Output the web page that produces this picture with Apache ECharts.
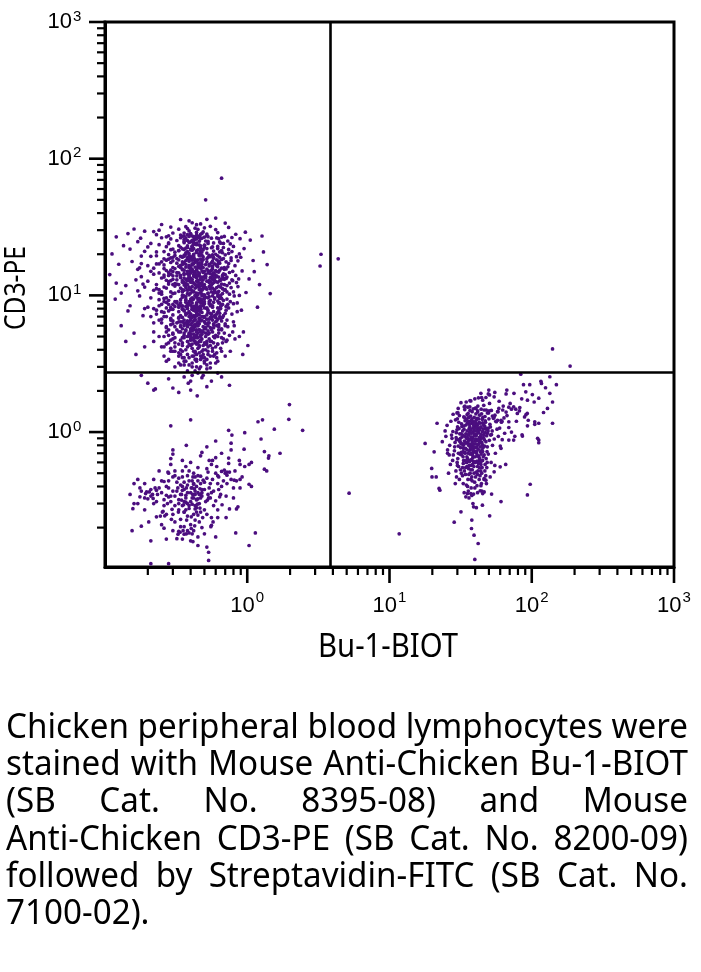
<!DOCTYPE html>
<html><head><meta charset="utf-8">
<script src="https://cdn.jsdelivr.net/npm/echarts@6/dist/echarts.min.js"></script>
<style>html,body{margin:0;padding:0;background:#fff}#c{width:701px;height:972px}</style>
</head><body><div id="c"></div>
<script>
const xTitle = 'Bu-1-BIOT';
const yTitle = 'CD3-PE';
const xMin = 0.1, xMax = 1000, yMin = 0.103, yMax = 1000;
const majorTicks = [1, 10, 100, 1000];
const majorTickExponents = [0, 1, 2, 3];
const minorTicks = [0.2,0.3,0.4,0.5,0.6,0.7,0.8,0.9,2,3,4,5,6,7,8,9,20,30,40,50,60,70,80,90,200,300,400,500,600,700,800,900];
const gateX = 3.85, gateY = 2.74;
const captionLines = [
  'Chicken peripheral blood lymphocytes were',
  'stained with Mouse Anti-Chicken Bu-1-BIOT',
  '(SB Cat. No. 8395-08) and Mouse',
  'Anti-Chicken CD3-PE (SB Cat. No. 8200-09)',
  'followed by Streptavidin-FITC (SB Cat. No.',
  '7100-02).'
];

// CD3+ T cells (upper-left quadrant)
const tCells = [
[.41,12.6],[.35,8.4],[.48,16.9],[.38,22.4],[.53,6.3],[.44,10.2],[.32,14.7],[.46,27.1],[.39,5.2],[.57,19.8],
[.42,7.1],[.36,24.3],[.50,11.4],[.34,5.9],[.45,18.2],[.40,9.1],[.55,13.5],[.37,16.1],[.47,4.6],[.31,20.7],
[.43,25.8],[.52,8.0],[.38,13.2],[.49,21.6],[.46,6.8],[.33,10.7],[.44,15.4],[.40,28.3],[.59,9.6],[.36,4.9],
[.37,11.8],[.46,20.1],[.33,7.6],[.51,14.2],[.40,5.5],[.44,23.5],[.59,12.9],[.36,17.4],[.48,9.9],[.42,6.5],
[.34,26.4],[.53,10.4],[.39,15.9],[.45,8.2],[.31,12.2],[.49,19.1],[.41,4.4],[.56,7.3],[.35,21.9],[.43,13.7],
[.47,11.1],[.38,6.0],[.61,16.5],[.44,28.9],[.40,9.4],[.36,14.5],[.50,5.7],[.42,18.8],[.34,8.8],[.46,24.9],
[.44,7.8],[.39,19.4],[.54,12.4],[.35,10.0],[.47,6.6],[.41,22.9],[.58,5.0],[.40,15.1],[.32,17.2],[.45,9.3],
[.50,26.7],[.37,12.0],[.48,4.8],[.43,17.9],[.33,23.1],[.55,8.6],[.39,11.0],[.46,14.0],[.52,20.4],[.36,6.2],
[.42,10.6],[.45,5.3],[.38,25.2],[.49,13.0],[.31,9.0],[.57,15.6],[.43,7.0],[.35,19.0],[.47,22.1],[.40,12.5],
[.33,16.3],[.46,11.6],[.41,6.9],[.53,24.0],[.37,8.3],[.44,21.2],[.39,14.3],[.60,10.5],[.48,7.5],[.34,27.6],
[.45,17.1],[.40,4.7],[.51,9.7],[.36,13.4],[.43,26.0],[.47,8.9],[.38,18.5],[.55,11.2],[.42,5.8],[.50,15.0],
[.39,20.2],[.34,11.3],[.46,7.2],[.41,16.7],[.57,22.6],[.44,12.7],[.37,9.8],[.49,5.4],[.32,13.9],[.43,23.8],
[.48,10.9],[.42,14.9],[.35,6.4],[.52,17.6],[.40,27.9],[.45,7.7],[.38,10.3],[.54,19.6],[.44,5.1],[.36,15.3],
[.41,21.4],[.47,13.1],[.33,8.5],[.50,23.2],[.39,11.5],[.43,4.5],[.58,14.6],[.37,18.0],[.46,9.5],[.42,25.5],
[.35,12.8],[.44,20.6],[.52,6.7],[.40,16.0],[.48,28.4],[.38,7.4],[.45,11.9],[.31,15.7],[.55,9.2],[.43,17.5],
[.46,5.6],[.37,22.2],[.42,12.3],[.50,8.1],[.34,19.3],[.56,26.2],[.39,9.0],[.44,14.1],[.47,18.4],[.41,7.9],
[.49,11.7],[.36,27.3],[.43,6.1],[.53,15.2],[.38,20.9],[.45,10.1],[.40,24.6],[.33,6.9],[.48,13.6],[.59,17.0],
[.44,9.7],[.39,16.6],[.51,25.0],[.42,5.2],[.35,10.6],[.47,21.0],[.37,13.0],[.54,8.7],[.41,18.1],[.46,4.3],
[.38,14.4],[.45,26.5],[.50,12.0],[.43,8.0],[.36,21.7],[.40,6.6],[.57,11.3],[.48,16.2],[.34,9.3],[.42,23.7],
[.47,15.8],[.41,10.8],[.37,5.6],[.53,19.0],[.44,7.1],[.39,27.0],[.46,12.1],[.32,18.6],[.49,8.4],[.43,14.8],
[.40,13.3],[.52,22.0],[.45,6.3],[.35,16.8],[.48,10.2],[.42,20.0],[.38,8.7],[.55,14.4],[.44,25.9],[.37,11.4],
[.43,9.9],[.36,19.7],[.50,7.0],[.46,17.3],[.40,11.1],[.58,24.2],[.42,4.9],[.39,12.9],[.47,23.0],[.34,14.0],
[.45,21.5],[.41,15.5],[.53,10.3],[.38,6.5],[.49,18.3],[.44,8.6],[.36,24.8],[.51,13.8],[.40,7.3],[.47,28.0],
[.39,17.8],[.46,11.0],[.42,26.9],[.35,9.7],[.54,16.4],[.43,5.9],[.48,20.8],[.37,12.2],[.56,6.8],[.41,22.8],
[.44,13.5],[.50,9.5],[.38,15.0],[.47,7.6],[.42,19.5],[.36,10.9],[.52,27.4],[.45,12.6],[.40,5.7],[.33,21.2],
[.48,17.7],[.41,8.2],[.46,23.4],[.39,13.7],[.55,11.8],[.43,16.1],[.37,26.3],[.50,6.4],[.44,10.4],[.42,14.2],
[.47,9.1],[.40,21.8],[.36,12.4],[.53,7.8],[.45,15.9],[.41,25.3],[.49,11.2],[.38,18.9],[.43,6.7],[.57,13.1],
[.35,7.9],[.46,19.8],[.42,10.7],[.51,16.8],[.39,24.4],[.44,11.5],[.48,5.5],[.40,14.6],[.37,20.5],[.54,9.8],
[.43,12.0],[.38,27.8],[.47,8.3],[.41,17.0],[.50,22.5],[.36,6.0],[.45,13.9],[.42,9.4],[.58,18.7],[.39,10.1],
[.44,24.1],[.49,14.7],[.37,9.2],[.46,6.2],[.40,19.2],[.52,12.7],[.43,26.6],[.35,15.4],[.48,8.9],[.41,11.6],
[.42,3.9],[.38,4.2],[.47,3.6],[.35,4.5],[.51,4.0],[.44,3.4],[.40,4.8],[.33,3.8],[.55,4.6],[.45,4.1],
[.39,29.6],[.45,30.4],[.41,27.2],[.49,29.1],[.36,28.6],[.43,31.0],[.52,28.1],[.47,26.0],[.38,30.8],[.44,27.5],
[.41,3.2],[.48,3.5],[.36,3.3],[.44,3.0],[.53,3.7],[.39,3.1],[.46,2.9],[.33,4.4],[.57,3.9],[.50,3.3],
[.28,12.1],[.25,8.6],[.29,17.4],[.22,10.9],[.27,22.7],[.30,6.2],[.24,14.6],[.26,5.0],[.29,25.9],[.21,19.3],
[.27,9.6],[.30,13.9],[.23,7.3],[.28,19.9],[.25,26.4],[.29,4.7],[.22,15.8],[.26,11.5],[.30,28.6],[.24,6.6],
[.29,8.2],[.26,18.5],[.20,12.7],[.28,5.6],[.24,23.5],[.27,15.2],[.30,10.3],[.23,20.8],[.28,27.3],[.25,4.2],
[.26,13.6],[.29,21.6],[.22,8.0],[.30,16.0],[.27,7.0],[.24,11.0],[.28,24.2],[.21,15.0],[.29,12.8],[.26,9.0],
[.30,19.0],[.23,17.0],[.27,26.8],[.25,10.2],[.28,7.7],[.30,3.9],[.19,21.0],[.26,16.7],[.29,14.3],[.24,9.3],
[.63,11.7],[.66,18.3],[.62,7.5],[.70,14.2],[.64,24.6],[.68,9.2],[.63,5.3],[.74,20.3],[.65,12.9],[.62,16.2],
[.67,6.9],[.62,22.0],[.72,10.6],[.64,15.3],[.69,27.0],[.63,8.8],[.78,13.0],[.66,4.9],[.62,19.5],[.71,17.6],
[.65,10.0],[.63,26.0],[.68,13.4],[.62,4.4],[.76,9.0],[.66,21.3],[.64,7.0],[.82,16.5],[.63,13.6],[.70,6.0],
[.64,19.0],[.67,11.2],[.62,28.8],[.73,25.0],[.65,8.0],[.69,16.0],[.62,12.5],[.80,22.8],[.66,5.7],[.63,14.8],
[.86,11.6],[.71,8.3],[.64,17.2],[.77,18.8],[.68,22.4],[.62,9.9],[.75,12.3],[.88,20.1],[.66,26.7],[.72,4.7],
[.37,31.8],[.44,32.9],[.50,31.2],[.41,34.0],[.47,33.3],[.33,30.5],[.55,32.0],[.39,35.1],[.29,31.6],[.60,30.3],
[.38,2.8],[.45,2.7],[.31,3.0],[.52,2.9],[.41,2.6],[.35,3.5],[.48,2.5],[.60,3.2],[.27,3.3],[.43,2.8],
[.108,14.2],[.112,20.1],[.118,9.4],[.125,16.9],[.13,6.0],[.135,23.1],[.14,11.8],[.145,28.3],[.15,8.4],[.155,17.7],
[.16,5.3],[.165,13.0],[.17,24.7],[.175,9.9],[.18,19.4],[.185,7.1],[.19,29.5],[.14,4.6],[.16,30.6],[.12,12.3],
[.17,15.5],[.15,21.8],[.13,10.4],[.185,12.1],[.178,26.2],[.165,3.7],[.12,26.8],[.145,7.7],[.19,4.2],[.175,15.9],
[.92,15.1],[.98,10.5],[.95,22.0],[1.03,13.2],[.91,7.8],[1.10,18.0],[1.22,12.0],[1.38,16.8],[.94,5.4],[1.05,25.4],
[1.18,8.2],[1.30,20.8],[.97,29.0],[1.45,10.3],[1.01,4.3],[.89,26.0],[1.12,14.9],[.93,3.7],[.90,19.0],[1.27,27.2],
[.60,36.8],[.52,36.0],[.34,35.9],[.25,33.0],[.74,31.4],[.83,28.0],[.70,33.8],[.22,29.3],[.85,8.8],[.88,5.0],
[.20,2.28],[.226,2.07],[.30,2.10],[.36,2.53],[.385,2.28],[.40,2.36],[.445,1.84],[.56,2.36],[.66,2.53],[.49,2.6],
[.22,2.03],[.40,2.03],[.28,2.45],[.75,2.2],[.33,1.95],[.52,2.15],[.18,2.6],[.62,2.7],
[.27,11.3],[.62,8.1],[.24,17.0],[.71,13.3],[.33,6.4],[.58,21.1],[.29,9.8],[.66,15.8],[.36,25.6],[.52,4.4],
[.75,10.2],[.31,19.6],[.60,6.9],[.26,14.1],[.45,12.9],[.68,24.0],[.35,8.0],[.56,17.3],[.28,23.9],[.48,9.3],
[.64,12.8],[.30,5.3],[.53,14.6],[.38,10.9],[.77,18.0],[.42,22.0],[.25,7.6],[.59,11.0],[.34,16.6],[.70,7.4],
[.46,19.5],[.23,12.0],[.61,26.3],[.39,7.0],[.54,9.0],[.32,13.0],[.67,20.5],[.44,4.9],[.28,18.4],[.57,14.0],
[.36,11.9],[.73,16.2],[.50,23.3],[.27,8.9],[.63,10.7],[.41,15.0],[.55,5.8],[.33,21.3],[.69,12.0],[.47,7.9],
[.30,14.9],[.58,18.9],[.43,10.0],[.66,6.5],[.37,20.0],[.51,13.4],[.25,10.6],[.62,22.8],[.40,8.5],[.72,11.8],
[.49,16.0],[.29,6.8],[.57,12.2],[.35,27.0],[.64,9.5],[.44,18.0],[.31,11.7],[.60,15.2],[.38,5.0],[.53,24.8],
[.68,14.4],[.26,20.9],[.47,10.5],[.34,13.5],[.59,7.1],[.42,24.5],[.74,21.7],[.32,9.0],[.55,19.2],[.45,6.0],
[.39,16.2],[.63,17.5],[.28,12.6],[.52,11.1],[.36,7.7],[.67,8.6],[.48,26.2],[.30,17.9],[.57,9.9],[.41,13.1],
[.61,13.9],[.34,22.5],[.46,14.5],[.27,5.9],[.54,16.9],[.43,11.3],[.70,19.8],[.37,9.4],[.58,6.1],[.32,25.2],
[.50,10.1],[.40,18.6],[.65,11.5],[.29,15.3],[.56,22.3],[.44,7.5],[.35,12.5],[.62,16.9],[.47,5.1],[.26,9.5],
[.42,13.8],[.59,10.8],[.33,18.2],[.51,6.2],[.38,23.0],[.66,13.2],[.45,16.4],[.30,7.9],[.55,12.6],[.40,21.5],
[.57,8.4],[.36,14.2],[.48,19.7],[.63,5.9],[.31,10.4],[.53,26.9],[.41,9.6],[.69,15.5],[.34,5.4],[.46,12.3],
[.52,15.6],[.39,11.2],[.60,20.0],[.28,14.7],[.44,8.8],[.65,24.1],[.37,16.9],[.55,7.4],[.42,19.0],[.32,12.1],
[.48,11.8],[.35,17.6],[.58,13.1],[.41,5.5],[.67,10.3],[.30,21.8],[.50,8.7],[.43,14.4],[.62,6.7],[.38,12.8],
[.45,10.3],[.54,12.9],[.40,15.3],[.49,7.0],[.36,9.9],[.57,16.1],[.43,18.3],[.33,14.6],[.61,11.4],[.47,13.3],
[.41,6.3],[.52,18.5],[.38,12.0],[.46,9.0],[.59,14.2],[.35,11.0],[.44,20.7],[.50,13.7],[.31,8.3],[.56,10.6],
[.39,14.0],[.48,15.1],[.43,8.1],[.54,11.6],[.36,19.3],[.46,16.6],[.62,9.1],[.41,12.4],[.51,5.3],[.34,16.0],
[.44,11.9],[.37,7.2],[.58,12.4],[.42,17.1],[.49,10.0],[.33,12.0],[.55,15.0],[.40,10.4],[.47,20.1],[.30,13.1],
[.45,14.8],[.53,9.6],[.39,18.8],[.60,13.6],[.42,7.8],[.48,12.4],[.35,15.6],[.57,17.8],[.44,5.6],[.51,11.4],
[.26,4.2],[.34,3.7],[.47,3.4],[.58,3.6],[.39,3.5],[.65,4.1],[.29,3.9],[.52,3.1],[.43,3.8],[.71,4.6],
[.22,5.4],[.80,6.4],[.21,24.0],[.78,26.5],[.84,12.4],[.23,27.8],[.81,9.9],[.20,8.2],[.79,15.0],[.24,30.0],
[.37,4.0],[.49,4.3],[.31,4.9],[.55,3.2],[.41,3.6],[.61,3.5],[.46,4.6],[.34,3.1],[.53,4.2],[.28,4.5],
[.36,5.1],[.48,6.6],[.29,7.9],[.55,4.3],[.41,8.8],[.63,5.6],[.33,3.6],[.45,7.3],[.70,6.2],[.38,4.6],
[.52,8.1],[.27,5.8],[.43,3.9],[.59,7.0],[.35,6.9],[.47,5.0],[.66,8.5],[.31,4.2],[.50,3.5],[.40,6.1],
[.57,5.4],[.34,8.4],[.44,4.4],[.25,6.7],[.61,3.8],[.39,7.6],[.53,6.0],[.30,5.2],[.68,4.8],[.46,9.1],
[.42,5.6],[.58,8.9],[.32,6.3],[.49,4.0],[.37,3.3],[.64,7.4],[.28,8.6],[.54,5.3],[.40,4.3],[.73,5.9],
[.47,7.9],[.35,4.9],[.60,6.4],[.43,3.4],[.30,7.2],[.51,5.7],[.38,8.0],[.66,3.9],[.45,6.0],[.33,5.4],
[.56,4.6],[.41,7.0],[.27,4.4],[.49,8.6],[.36,6.6],[.62,5.0],[.44,3.7],[.53,7.5],[.31,5.9],[.71,7.8],
[.39,5.3],[.50,6.4],[.34,4.0],[.58,5.8],[.42,8.3],[.29,6.1],[.47,4.7],[.65,6.8],[.37,7.4],[.55,3.6],
[.44,6.2],[.32,8.8],[.60,4.2],[.40,5.0],[.52,7.2],[.26,7.0],[.48,3.9],[.69,5.3],[.35,5.7],[.57,8.2],
[.41,4.1],[.54,6.7],[.30,4.8],[.46,5.6],[.63,7.7],[.38,3.7],[.50,9.0],[.33,6.8],[.59,4.9],[.43,7.7],
[.48,5.2],[.36,7.8],[.61,6.0],[.45,4.5],[.28,5.1],[.53,3.9],[.40,6.9],[.67,4.5],[.34,6.0],[.56,7.0],
[.42,3.6],[.51,4.4],[.39,8.6],[.58,6.2],[.31,3.9],[.47,6.5],[.64,8.8],[.37,5.5],[.54,4.8],[.44,7.2],
[.35,4.3],[.49,5.9],[.60,5.1],[.40,7.3],[.33,8.2],[.52,3.4],[.45,8.0],[.72,6.6],[.38,6.2],[.57,4.1],
[.46,4.2],[.30,6.5],[.55,8.4],[.41,5.8],[.62,4.4],[.36,3.5],[.50,6.9],[.43,5.1],[.27,8.1],[.66,5.6],
[.39,6.4],[.53,5.5],[.34,7.1],[.48,8.9],[.59,3.7],[.44,5.4],[.31,4.5],[.57,6.6],[.41,9.3],[.49,3.7],
[.37,8.9],[.61,7.3],[.45,4.9],[.32,5.6],[.54,6.3],[.42,4.7],[.68,7.1],[.47,8.4],[.35,3.9],[.51,5.0],
[.58,4.5],[.40,5.5],[.46,6.7],[.29,4.1],[.63,6.1],[.38,5.9],[.52,4.6],[.43,6.6],[.34,4.7],[.56,5.6],
[.44,3.3],[.50,3.2],[.36,3.1],[.62,3.3],[.28,3.4],[.47,3.0],[.41,3.0],[.55,2.95],[.33,3.2],[.70,3.6],
[.75,5.1],[.78,7.3],[.24,5.0],[.23,7.8],[.76,3.9],[.80,8.7],[.26,3.6],[.22,6.3],[.74,8.1],[.82,4.8],
[.45,6.4],[.40,5.2],[.51,5.8],[.37,6.3],[.48,7.0],[.43,4.6],[.55,6.9],[.39,4.4],[.53,5.2],[.42,6.0],
[.47,5.4],[.36,5.3],[.58,7.6],[.44,8.4],[.50,4.5],[.34,6.4],[.61,6.5],[.41,7.9],[.46,3.8],[.38,8.3],
[.58,10.4],[.66,12.1],[.73,8.6],[.61,14.9],[.69,10.9],[.77,11.4],[.63,17.8],[.56,11.9],[.71,15.6],[.65,8.3],
[.60,12.6],[.68,18.6],[.75,14.7],[.59,9.4],[.64,20.8],[.72,13.6],[.57,16.4],[.80,10.6],[.62,10.3],[.67,14.0],
[.70,11.0],[.58,13.3],[.74,17.1],[.63,9.8],[.79,12.8],[.61,18.2],[.66,9.5],[.56,15.3],[.72,9.4],[.69,13.1],
[.83,14.0],[.85,7.6],[.78,20.9],[.86,17.9],[.81,6.0],[.76,23.8],[.88,10.0],[.84,19.2],[.79,5.4],[.87,13.2],
[.27,12.9],[.24,8.4],[.29,10.6],[.26,15.7],[.23,11.2],[.28,9.2],[.25,13.4],[.30,8.6],[.22,14.3],[.27,18.1],
[.29,6.6],[.25,17.6],[.28,14.0],[.24,10.4],[.30,12.0],[.26,7.5],[.23,19.5],[.29,18.8],[.27,5.4],[.25,6.3],
[.21,9.6],[.20,16.5],[.19,11.5],[.22,4.6],[.18,13.7],[.21,7.0],[.20,22.6],[.19,8.0],[.17,10.8],[.18,17.1]
];

// CD3- Bu-1- cells (lower-left quadrant)
const doubleNeg = [
[1.98,1.59],[1.96,1.24],[2.45,1.03],[1.19,1.19],[1.28,1.23],[.74,1.03],[.96,.99],[.29,1.11],[.40,1.23],[.373,.80],
[.77,.83],[.77,.74],[.60,.86],[.30,.74],[.30,.69],[.29,.64],[1.32,.72],[1.42,.67],[1.41,.645],[1.70,.70],
[.47,.67],[.48,.71],[.35,.62],[.40,.60],[.74,.645],[.54,.62],[.57,.62],[.89,.58],[.96,.56],[1.03,.58],
[1.07,.60],[1.32,.535],[1.37,.52],[.52,.54],[.56,.58],[.28,.50],[.31,.48],[.30,.47],[.35,.47],[.415,.47],
[.45,.44],[.49,.445],[.47,.476],[.60,.50],[.62,.48],[.63,.47],[.66,.515],[.69,.527],[.70,.50],[.72,.51],
[.72,.484],[.75,.51],[.77,.45],[.81,.445],[.84,.44],[.89,.45],[1.03,.415],[1.07,.40],[.80,.39],[.89,.39],
[.62,.42],[.63,.38],[.19,.42],[.176,.39],[.16,.30],[.157,.275],[.18,.205],[.203,.22],[.21,.38],[.225,.39],
[.23,.375],[.205,.365],[.196,.365],[.193,.355],[.216,.35],[.234,.35],[.176,.336],[.218,.327],[.20,.325],[.22,.30],
[.26,.435],[.277,.51],[.27,.345],[.28,.335],[.275,.30],[.325,.39],[.35,.375],[.373,.39],[.404,.39],[.42,.415],
[.425,.385],[.414,.35],[.41,.33],[.43,.35],[.45,.36],[.47,.35],[.465,.385],[.48,.36],[.345,.35],[.37,.345],
[.345,.318],[.37,.307],[.357,.294],[.38,.30],[.39,.276],[.43,.274],[.41,.297],[.446,.297],[.465,.278],[.44,.32],
[.45,.325],[.525,.318],[.56,.36],[.535,.33],[.60,.314],[.64,.336],[.665,.294],[.71,.237],[.75,.274],[.84,.274],
[.86,.284],[.33,.30],[.31,.29],[.296,.272],[.256,.263],[.263,.244],[.253,.26],[.245,.243],[.293,.23],[.328,.26],
[.36,.26],[.38,.243],[.375,.227],[.404,.24],[.43,.227],[.45,.247],[.486,.237],[.56,.237],[.575,.22],[.62,.237],
[.56,.208],[.555,.203],[.34,.203],[.36,.203],[.354,.19],[.38,.19],[.373,.18],[.404,.197],[.427,.206],[.42,.19],
[.41,.18],[.45,.171],[.415,.158],[.39,.183],[.33,.188],[.326,.179],[.36,.179],[.337,.185],[.26,.198],[.27,.165],
[.32,.166],[.45,.148],[.52,.144],[.535,.132],[.535,.115],[.60,.171],[.83,.183],[1.14,.183],[1.03,.148],[.21,.109],
[.28,.109],
[.34,.41],[.38,.36],[.42,.33],[.36,.38],[.44,.40],[.31,.34],[.40,.31],[.47,.42],[.35,.29],[.39,.44],
[.43,.37],[.33,.32],[.46,.30],[.37,.27],[.41,.39],[.30,.37],[.48,.34],[.36,.26],[.44,.28],[.32,.43],
[.50,.38],[.38,.48],[.27,.40],[.53,.35],[.29,.31],[.42,.25],[.34,.23],[.55,.42],[.25,.36],[.47,.26],
[.17,.45],[.24,.52],[.52,.46],[.66,.40],[.88,.62],[.29,.58],[.45,.55],[.19,.27],[.23,.31],[.58,.29],
[.71,.34],[.31,.22],[.27,.25],[.48,.20],[.40,.16],[.62,.27],[.35,.52],[.25,.44],[.43,.47],[.54,.39],
[.37,.33],[.32,.37],[.46,.35],[.39,.29],[.51,.31],[.29,.34],[.42,.42],[.35,.40],[.48,.38],[.40,.36],
[.33,.27],[.44,.32],[.38,.41],[.36,.31],[.50,.27],[.28,.39],[.43,.29],[.34,.35],[.41,.44],[.47,.33],
[.155,.19],[.21,.16],[.60,.65],[.95,.75],[1.25,.89],[.78,.95],[.52,.78],[.66,.70],[1.55,1.05],[.37,.56],
[.17,.30],[.19,.33],[.22,.45],[.24,.39],[.26,.29],[.28,.44],[.31,.52],[.33,.46],[.36,.43],[.39,.52],
[.42,.50],[.45,.48],[.50,.43],[.53,.51],[.57,.45],[.61,.56],[.68,.44],[.74,.59],[.82,.52],[.92,.47],
[.30,.19],[.35,.165],[.40,.21],[.46,.22],[.50,.18],[.25,.21],[.23,.24],[.44,.26],[.52,.25],[.30,.25],
[.65,.35],[.72,.42],[.80,.33],[.58,.37],[.55,.33],[.26,.32],[.21,.34],[.18,.37],[.16,.42],[.15,.35]
];

// Bu-1+ B cells (lower-right quadrant)
const bCells = [
[36.2,.95],[41.5,1.12],[31.8,.82],[45.3,1.28],[38.7,.71],[33.4,1.05],[48.9,.98],[29.6,.88],[42.8,.62],[35.1,1.34],
[39.9,.86],[44.1,1.47],[30.7,1.18],[37.5,.57],[51.2,1.09],[34.3,.76],[46.6,.79],[27.9,1.01],[40.6,1.22],[32.9,.66],
[43.7,.93],[38.1,1.41],[36.9,.69],[53.8,1.26],[31.2,.97],[47.4,1.06],[33.9,1.27],[41.1,.78],[28.6,.73],[39.3,1.03],
[35.6,.84],[49.7,1.38],[37.9,1.16],[42.3,.67],[30.1,1.09],[45.8,.91],[34.8,.60],[56.4,1.19],[40.2,1.50],[32.4,.92],
[38.4,.99],[44.7,.74],[29.1,1.23],[36.6,1.20],[50.3,.87],[41.9,1.03],[33.1,.80],[47.9,1.45],[35.4,.64],[43.2,1.16],
[39.6,.77],[31.5,.90],[46.1,1.12],[37.2,1.31],[42.6,.83],[27.3,.95],[52.7,1.02],[34.6,1.13],[40.9,.70],[36.0,.54],
[44.4,1.36],[33.7,.71],[48.2,.94],[38.9,1.08],[30.4,.79],[41.3,1.26],[35.9,.87],[55.1,1.33],[37.7,.63],[45.0,1.01],
[32.1,1.15],[40.4,.89],[47.1,1.21],[36.4,1.00],[43.9,.58],[29.8,1.04],[39.0,1.19],[34.1,.93],[50.8,1.14],[42.1,.81],
[37.0,.75],[45.6,1.05],[31.0,1.32],[41.7,1.40],[35.3,1.17],[48.5,.72],[38.6,.90],[33.0,.59],[46.9,1.30],[39.8,1.10],
[34.4,.97],[43.4,.88],[36.8,1.44],[52.1,.96],[28.9,.84],[40.0,.66],[44.9,1.24],[32.7,1.02],[38.3,.80],[57.9,1.41],
[42.0,1.07],[35.0,.74],[47.6,.85],[39.4,1.28],[31.9,.97],[45.1,1.17],[37.4,.92],[41.6,.56],[34.0,1.21],[49.3,1.02],
[36.3,1.06],[43.0,1.33],[30.5,.70],[40.7,.94],[46.3,.68],[33.6,.86],[38.0,1.25],[54.5,.89],[35.7,1.37],[42.4,.99],
[39.2,.82],[44.0,1.09],[32.3,1.10],[37.8,.77],[48.0,1.05],[41.0,1.15],[29.4,.91],[36.1,.89],[45.5,.77],[40.5,1.36],
[34.9,1.24],[50.0,1.25],[38.5,.65],[42.9,1.04],[31.4,.85],[46.8,1.10],[37.1,1.03],[43.6,.72],[35.8,.96],[59.5,1.07],
[40.1,1.13],[33.3,1.29],[45.9,.96],[38.2,.86],[41.4,.61],[36.5,1.14],[52.9,1.31],[30.8,1.06],[44.5,.84],[39.5,.97],
[26.5,.80],[25.4,1.12],[28.1,.68],[61.2,1.18],[63.8,1.27],[58.2,.93],[24.9,.93],[62.5,1.45],[27.0,1.20],[60.1,.79],
[35.5,1.52],[41.8,1.55],[38.8,1.48],[46.0,1.57],[33.8,1.46],[30.3,1.38],[43.8,.52],[37.3,.53],[48.6,.60],[32.6,.55],
[44.2,.90],[37.6,.98],[40.8,1.02],[35.2,.91],[42.7,1.18],[39.1,.73],[36.7,1.09],[47.2,.99],[34.5,.83],[41.2,.87],
[33.2,.62],[38.4,.58],[42.5,.66],[29.9,.60],[36.9,.50],[44.8,.55],[31.3,.69],[40.3,.47],[35.6,.45],[47.8,.64],
[34.7,.41],[39.7,.43],[32.0,.50],[41.9,.52],[37.5,.39],[30.6,.56],[43.3,.48],[36.2,.33],[38.6,.30],[33.5,.36],
[28.0,1.35],[33.9,1.55],[50.5,1.62],[57.0,1.05],[64.5,.98],[23.5,.85],[26.8,.58],[31.0,.45],[48.0,.42],[55.5,.70],
[36.8,1.70],[42.2,1.78],[30.0,1.25],[52.0,1.44],[67.0,1.32],[24.6,1.02],[29.3,.52],[35.4,.40],[44.6,.37],[40.8,.28],
[34.0,.70],[38.3,.68],[42.0,.75],[46.4,.88],[31.6,.77],[36.6,.81],[40.4,.82],[44.0,.96],[32.8,.95],[37.1,.88],
[39.6,.94],[43.1,.85],[35.1,1.02],[38.9,1.13],[42.4,1.25],[36.0,1.28],[40.0,1.18],[33.5,1.11],[45.5,1.15],[37.4,1.05],
[41.2,.97],[34.8,.90],[39.0,.78],[43.7,1.08],[36.4,.73],[40.6,1.07],[38.0,.92],[35.9,1.19],[42.8,.91],[37.8,1.22],
[30.9,.88],[47.3,1.18],[33.0,.72],[45.1,.62],[29.5,.99],[49.5,1.07],[35.0,.56],[41.0,.61],[27.5,.90],[53.0,.80],
[39.3,.50],[44.5,.50],[34.2,.49],[46.8,.52],[38.1,.44],[42.7,.45],[36.5,.61],[32.5,.82],[48.7,.78],[51.4,.95],
[70.5,1.62],[63.0,1.55],[85.0,1.75],[101,1.88],[78.0,1.20],[72.0,1.00],[66.0,1.40],[59.0,1.68],[55.0,1.95],[62.0,.88],
[33.6,.52],[38.9,.61],[44.1,.69],[30.2,.64],[41.5,.49],[36.3,.57],[47.0,.58],[28.7,.78],[39.6,.72],[35.0,.66],
[42.9,.55],[31.9,.71],[37.9,.47],[45.6,.66],[34.3,.55],[40.1,.60],[29.6,.47],[49.5,.69],[36.9,.78],[43.5,.78],
[32.6,.48],[38.2,.53],[46.2,.45],[35.7,.70],[41.0,.72],[30.0,.57],[44.0,.61],[37.0,.62],[33.1,.76],[39.2,.56],
[40.7,.51],[36.1,.49],[48.3,.55],[31.5,.53],[42.2,.59],[34.8,.62],[38.5,.74],[45.2,.72],[37.3,.45],[43.0,.64],
[27.8,.62],[51.8,.60],[26.0,.50],[55.0,.57],[33.0,.42],[47.5,.48],[29.0,.42],[39.8,.39],[35.8,.37],[44.3,.42],
[36.0,.80],[40.3,.77],[34.1,.84],[42.0,.88],[38.0,.83],[31.1,.86],[44.9,.81],[37.7,.70],[32.2,.68],[41.4,.67],
[140,4.06],[186,3.04],[83.7,2.65],[87.5,2.22],[96.8,2.22],[116,2.35],[117,2.27],[134,2.54],[149,2.22],[125,2.11],
[90.8,1.97],[134,1.92],[140,1.66],[112,1.77],[104,1.66],[93.3,1.71],[129,1.49],[121,1.39],[140,1.16],[112,1.16],
[105,1.19],[105,1.14],[110,.90],[112,.874],[112,.835],[93,1.37],[89,1.29],[91,1.34],[85.5,.955],[86,.935],
[76,.93],[93.3,1.11],[82.4,1.51],[77.2,1.47],[72,1.47],[79.2,1.37],[81.9,1.43],[74.6,1.53],[94.5,1.22],[69,1.52],
[66,1.90],[66.8,2.03],[75,1.92],[54.4,1.81],[50.5,1.87],[49.9,2.03],[43.9,1.92],[44.4,1.79],[39.8,1.75],[37.3,1.69],
[34.6,1.66],[31.8,1.64],[33.5,1.53],[30.4,1.49],[29.8,1.38],[36.7,1.53],[40.5,1.49],[41.6,1.43],[45.2,1.71],[47.6,1.79],
[49.5,1.90],[46.3,1.45],[48.8,1.38],[50.1,1.43],[57.5,1.41],[58.7,1.49],[60.8,1.22],[61.8,1.20],[54.4,1.29],[55.9,1.20],
[57.5,1.22],[69,1.19],[69,1.08],[69,.874],[74.6,.874],[60.8,.76],[65.6,.58],[60,.557],[54.4,.512],[51,.47],
[46.3,.458],[47.6,.445],[43.9,.405],[41.2,.405],[43.4,.372],[39,.352],[37.9,.344],[41.6,.36],[37.3,.355],[35.3,.355],
[34.4,.336],[45.2,.355],[46.3,.365],[52.2,.352],[60.8,.31],[45,.292],[50.6,.244],[39,.284],[31.8,.261],[28.5,.219],
[37.9,.227],[37.7,.197],[39.3,.176],[42,.153],[39.8,.117],[97.5,.415],[93.2,.347],[19.8,.542],[21.3,.47],[19.9,.47],
[22.3,.387],[22.6,.376],[20.6,.717],[17.8,.826],[21.6,1.16],[25.6,.70],[26.3,.68],[25.6,.74]
];

// isolated events
const outliers = [[3.3,20.0],[3.25,16.4],[4.36,18.5],[.51,50],[.66,72],[5.2,.357],[11.7,.18]];

const dotColor = '#4b0e7f';
const ctx = document.createElement('canvas').getContext('2d');
function measure(text, size, family) { ctx.font = size + 'px ' + family; return ctx.measureText(text).width; }

// caption (justified)
const capFamily = '"Noto Sans"', capSize = 35, capLeft = 6, capRight = 688, capBase0 = 741, capStep = 37.2;
const capW = capRight - capLeft;
const spaceW = measure(' ', capSize, capFamily);
const lineWords = captionLines.map(l => l.split(' '));
const lineNat = lineWords.map(ws => ws.reduce((a, w) => a + measure(w, capSize, capFamily), 0) + spaceW * (ws.length - 1));
const capScale = Math.min(capW / lineNat[0], capW / lineNat[1]);
const graphics = [];
lineWords.forEach((ws, i) => {
  const widths = ws.map(w => measure(w, capSize, capFamily) * capScale);
  const sum = widths.reduce((a, b) => a + b, 0);
  const last = i === lineWords.length - 1;
  const gap = last ? spaceW * capScale : (capW - sum) / (ws.length - 1);
  let x = capLeft;
  ws.forEach((w, j) => {
    graphics.push({ type: 'text', x: x, y: capBase0 + i * capStep - 13, scaleX: capScale, silent: true,
      style: { text: w, fontSize: capSize, fontFamily: 'Noto Sans', fill: '#000', align: 'left', verticalAlign: 'middle' } });
    x += widths[j] + gap;
  });
});
// axis titles
const xtScale = 140 / measure(xTitle, 32, '"Noto Sans"');
graphics.push({ type: 'text', x: 388, y: 648, scaleX: xtScale, silent: true,
  style: { text: xTitle, fontSize: 32, fontFamily: 'Noto Sans', fill: '#000', align: 'center', verticalAlign: 'middle' } });
const ytScale = 84 / measure(yTitle, 29, '"Noto Sans"');
graphics.push({ type: 'text', x: 16.5, y: 288, rotation: Math.PI / 2, scaleX: ytScale, silent: true,
  style: { text: yTitle, fontSize: 29, fontFamily: 'Noto Sans', fill: '#000', align: 'center', verticalAlign: 'middle' } });

// ticks and power-of-ten labels drawn through the axis scales
const xTickData = majorTicks.map(v => [v, yMin, 2]).concat(minorTicks.map(v => [v, yMin, 1]));
const yTickData = majorTicks.map(v => [xMin, v, 2]).concat(minorTicks.map(v => [xMin, v, 1]));
const xLabelData = majorTicks.map((v, i) => [v, yMin, majorTickExponents[i]]);
const yLabelData = majorTicks.map((v, i) => [xMin, v, majorTickExponents[i]]);
function tickRender(isX) {
  return function (params, api) {
    const major = api.value(2) > 1.5;
    const len = major ? 16 : 8;
    const p = api.coord([api.value(0), api.value(1)]);
    const shape = isX ? { x1: p[0], y1: p[1], x2: p[0], y2: p[1] + len } : { x1: p[0], y1: p[1], x2: p[0] - len, y2: p[1] };
    return { type: 'line', shape: shape, style: { stroke: '#000', lineWidth: major ? 2.6 : 2.2 } };
  };
}
function labelRender(isX) {
  return function (params, api) {
    const p = api.coord([api.value(0), api.value(1)]);
    const exp = String(api.value(2));
    const bx = isX ? p[0] + 7.5 : p[0] - 33;
    const by = isX ? p[1] + 39 : p[1];
    const supDy = isX ? 8.5 : 5.5;
    return { type: 'group', children: [
      { type: 'text', x: bx, y: by, style: { text: '10', font: '22px "Liberation Sans", Arial, sans-serif', fill: '#000', align: 'right', verticalAlign: 'middle' } },
      { type: 'text', x: bx + 1, y: by - supDy, style: { text: exp, font: '15px "Liberation Sans", Arial, sans-serif', fill: '#000', align: 'left', verticalAlign: 'middle' } }
    ] };
  };
}
const dotSeries = (name, data) => ({
  type: 'scatter', name: name, data: data, symbol: 'circle', symbolSize: 3.7,
  itemStyle: { color: dotColor, opacity: 1 }, silent: true, animation: false
});
const helper = (name, data, fn) => ({ type: 'custom', name: name, data: data, renderItem: fn, clip: false, silent: true, encode: { x: 0, y: 1 }, animation: false });

const chart = echarts.init(document.getElementById('c'), null, { renderer: 'canvas' });
chart.setOption({
  animation: false,
  backgroundColor: '#fff',
  grid: { left: 105, top: 22, width: 569, height: 545, show: true, borderColor: '#000', borderWidth: 3, outerBoundsMode: 'none', containLabel: false },
  xAxis: {
    type: 'log', logBase: 10, min: xMin, max: xMax,
    axisLine: { show: true, lineStyle: { color: '#000', width: 3 } },
    axisTick: { show: false }, minorTick: { show: false }, splitLine: { show: false }, axisLabel: { show: false }
  },
  yAxis: {
    type: 'log', logBase: 10, min: yMin, max: yMax,
    axisLine: { show: true, lineStyle: { color: '#000', width: 3 } },
    axisTick: { show: false }, minorTick: { show: false }, splitLine: { show: false }, axisLabel: { show: false }
  },
  graphic: graphics,
  series: [
    dotSeries('CD3+ T cells', tCells),
    dotSeries('Double negative', doubleNeg),
    dotSeries('Bu-1+ B cells', bCells),
    Object.assign(dotSeries('Isolated', outliers), {
      markLine: { silent: true, symbol: ['none', 'none'], animation: false, label: { show: false },
        lineStyle: { color: '#000', width: 2.6, type: 'solid' },
        data: [{ xAxis: gateX }, { yAxis: gateY }] }
    }),
    helper('xTicks', xTickData, tickRender(true)),
    helper('yTicks', yTickData, tickRender(false)),
    helper('xLabels', xLabelData, labelRender(true)),
    helper('yLabels', yLabelData, labelRender(false))
  ]
});
</script>
</body></html>
